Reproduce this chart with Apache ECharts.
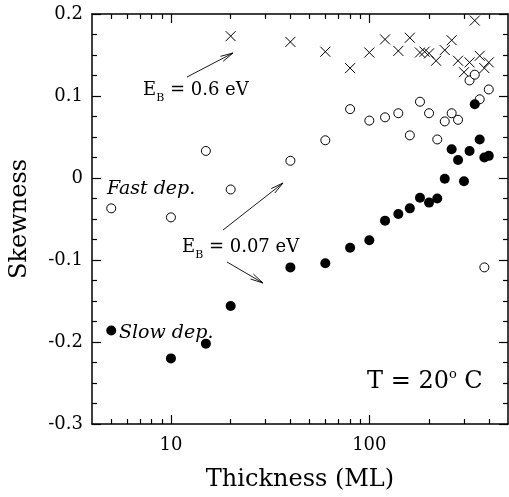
<!DOCTYPE html>
<html><head><meta charset="utf-8">
<script src="https://cdn.jsdelivr.net/npm/echarts@6/dist/echarts.min.js"></script>
<style>html,body{margin:0;padding:0;background:#fff}#c{width:509px;height:497px}</style>
</head><body><div id="c"></div>
<script>
// E_B = 0.6 eV (crosses)
const crossX = [20,40,60,80,100,120,140,160,180,190,200,217,240,260,280,300,320,340,360,380,400];
const crossY = [0.173,0.166,0.154,0.134,0.153,0.169,0.155,0.171,0.153,0.154,0.152,0.143,0.156,0.168,0.143,0.129,0.141,0.192,0.149,0.134,0.141];
// Fast dep. (open circles)
const openX = [5,10,15,20,40,60,80,100,120,140,160,180,200,220,240,260,280,320,340,360,400,380];
const openY = [-0.037,-0.048,0.033,-0.014,0.021,0.046,0.084,0.070,0.074,0.079,0.052,0.093,0.079,0.047,0.069,0.079,0.071,0.119,0.126,0.096,0.108,-0.109];
// Slow dep. (filled circles)
const fillX = [5,10,15,20,40,60,80,100,120,140,160,180,200,220,240,260,280,300,320,340,360,380,400];
const fillY = [-0.186,-0.220,-0.202,-0.156,-0.109,-0.104,-0.085,-0.076,-0.052,-0.044,-0.037,-0.024,-0.030,-0.025,-0.001,0.035,0.022,-0.004,0.033,0.090,0.047,0.025,0.027];
// tick values
const majorX = [10,100];
const minorX = [5,6,7,8,9,20,30,40,50,60,70,80,90,200,300,400];

const zip = (xs, ys) => xs.map((x, i) => [x, ys[i]]);
const FONT = 'DejaVu Serif';
const chart = echarts.init(document.getElementById('c'));

function xAx(pos, ticks, len, showLabel, showLine) {
  return {
    type: 'log', logBase: 10, min: 4, max: 500, position: pos, gridIndex: 0,
    axisLine: {show: showLine, onZero: false, lineStyle: {color: '#000', width: 1.5}},
    axisTick: {show: true, inside: true, length: len, customValues: ticks, lineStyle: {color: '#000', width: 1.2}},
    axisLabel: {show: showLabel, customValues: majorX, color: '#000', fontFamily: FONT, fontSize: 18, margin: 12},
    splitLine: {show: false}, minorTick: {show: false},
    name: showLabel ? 'Thickness (ML)' : '', nameLocation: 'middle', nameGap: 44,
    nameTextStyle: {color: '#000', fontFamily: FONT, fontSize: 24}
  };
}
function yAx(pos, showLabel) {
  return {
    type: 'value', min: -0.3, max: 0.2, interval: 0.1, position: pos,
    axisLine: {show: true, lineStyle: {color: '#000', width: 1.5}},
    axisTick: {show: true, inside: true, length: 9, lineStyle: {color: '#000', width: 1.2}},
    minorTick: {show: true, splitNumber: 4, length: 5, lineStyle: {color: '#000', width: 1.2}},
    axisLabel: {show: showLabel, color: '#000', fontFamily: FONT, fontSize: 18, margin: 9,
      formatter: v => (Math.abs(v) < 1e-9 ? '0' : (+v.toFixed(1)).toString())},
    splitLine: {show: false}, minorSplitLine: {show: false},
    name: showLabel ? 'Skewness' : '', nameLocation: 'middle', nameGap: 60,
    nameTextStyle: {color: '#000', fontFamily: FONT, fontSize: 24}
  };
}

function arrow(x1, y1, x2, y2) {
  const a = Math.atan2(y2 - y1, x2 - x1), L = 13, w = 0.22;
  const st = {stroke: '#000', lineWidth: 0.9, fill: null};
  return [
    {type: 'line', shape: {x1, y1, x2, y2}, style: st},
    {type: 'polyline', shape: {points: [
      [x2 - L * Math.cos(a - w), y2 - L * Math.sin(a - w)], [x2, y2],
      [x2 - L * Math.cos(a + w), y2 - L * Math.sin(a + w)]]}, style: st}
  ];
}
function txt(x, y, text, size, italic, rich) {
  return {type: 'text', x, y, style: {text, fill: '#000', fontFamily: FONT, fontSize: size,
    fontStyle: italic ? 'italic' : 'normal', verticalAlign: 'middle', align: 'left', rich}};
}
const ebRich = {
  m: {fontFamily: FONT, fontSize: 18, lineHeight: 28, fill: '#000'},
  s: {fontFamily: FONT, fontSize: 11, lineHeight: 10, verticalAlign: 'bottom', fill: '#000'}
};
const tRich = {
  m: {fontFamily: FONT, fontSize: 24, lineHeight: 28, fill: '#000'},
  p: {fontFamily: FONT, fontSize: 13, lineHeight: 10, verticalAlign: 'top', fill: '#000'}
};

chart.setOption({
  animation: false,
  backgroundColor: '#fff',
  grid: {left: 86, right: 1, top: 14, bottom: 62, containLabel: false},
  xAxis: [xAx('bottom', majorX, 9, true, true), xAx('bottom', minorX, 5, false, false),
          xAx('top', majorX, 9, false, true), xAx('top', minorX, 5, false, false)],
  yAxis: [yAx('left', true), yAx('right', false)],
  series: [
    {type: 'scatter', xAxisIndex: 0, yAxisIndex: 0, data: zip(crossX, crossY),
     symbol: 'path://M0,0L10,10M10,0L0,10', symbolSize: 10,
     itemStyle: {color: 'none', borderColor: '#000', borderWidth: 1, opacity: 1}},
    {type: 'scatter', xAxisIndex: 0, yAxisIndex: 0, data: zip(openX, openY),
     symbol: 'circle', symbolSize: 9,
     itemStyle: {color: '#fff', borderColor: '#000', borderWidth: 1, opacity: 1}},
    {type: 'scatter', xAxisIndex: 0, yAxisIndex: 0, data: zip(fillX, fillY),
     symbol: 'circle', symbolSize: 10,
     itemStyle: {color: '#000', borderColor: '#000', borderWidth: 0, opacity: 1}}
  ],
  graphic: [
    ...arrow(187, 77, 233, 53),
    ...arrow(223, 230, 283, 183),
    ...arrow(227, 262, 263, 283),
    txt(143, 90, '{m|E}{s|B}{m| = 0.6 eV}', 18, false, ebRich),
    txt(182, 247, '{m|E}{s|B}{m| = 0.07 eV}', 18, false, ebRich),
    txt(107, 189, 'Fast dep.', 19, true),
    txt(119, 333, 'Slow dep.', 19, true),
    txt(367, 382, '{m|T = 20}{p|o}{m| C}', 24, false, tRich)
  ]
});
</script>
</body></html>
